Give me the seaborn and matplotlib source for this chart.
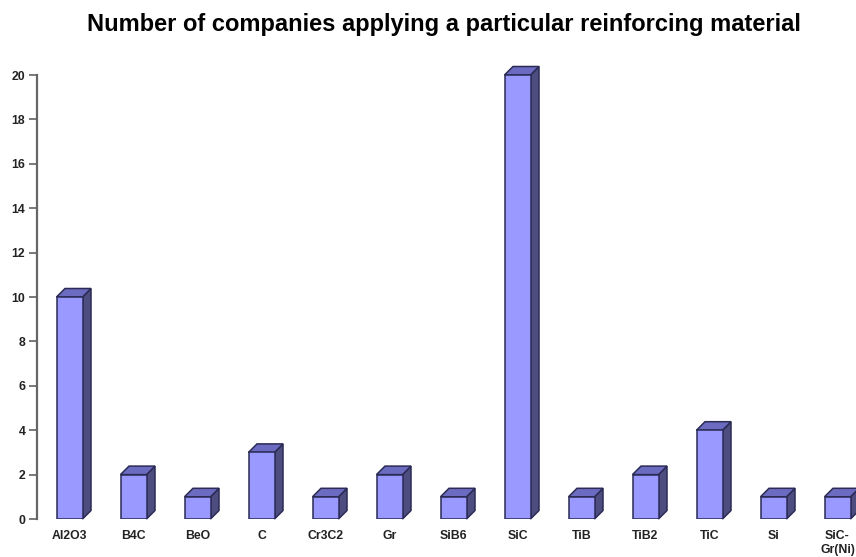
import matplotlib
matplotlib.use("Agg")
import matplotlib.pyplot as plt
import pandas as pd
import seaborn as sns
from matplotlib.patches import Polygon

materials = ["Al2O3", "B4C", "BeO", "C", "Cr3C2", "Gr", "SiB6", "SiC",
             "TiB", "TiB2", "TiC", "Si", "SiC-\nGr(Ni)"]
companies = [10, 2, 1, 3, 1, 2, 1, 20, 1, 2, 4, 1, 1]
y_ticks = [0, 2, 4, 6, 8, 10, 12, 14, 16, 18, 20]

FRONT = "#9999ff"
TOP = "#6b6bc2"
SIDE = "#4d4d80"
EDGE = "#2b2b55"
DEPTH_PX = 8.5


def main():
    sns.set_theme(style="white")
    plt.rcParams["font.family"] = ["Liberation Sans", "DejaVu Sans"]

    W, H = 856, 557
    fig = plt.figure(figsize=(W / 100, H / 100), dpi=100)

    # pixel layout of the plot area, category band is 64 px wide
    left, right, top, bottom = 37, W, 55, 519
    ax = fig.add_axes([left / W, 1 - bottom / H, (right - left) / W, (bottom - top) / H])

    df = pd.DataFrame({"material": materials, "companies": companies})
    sns.barplot(data=df, x="material", y="companies", color=FRONT, saturation=1,
                width=26 / 64, linewidth=1.1, edgecolor=EDGE, zorder=3, ax=ax)

    x_start = -0.5 - 0.5 / 64
    ax.set_xlim(x_start, x_start + (right - left) / 64)
    px_per_y = 444 / 20
    ax.set_ylim(0, (bottom - top) / px_per_y)

    # fake 3d box: side and top faces built off each seaborn bar
    dx = DEPTH_PX / 64
    dy = DEPTH_PX / px_per_y
    for bar in list(ax.patches):
        x0, x1 = bar.get_x(), bar.get_x() + bar.get_width()
        h = bar.get_height()
        side = [(x1, 0), (x1 + dx, dy), (x1 + dx, h + dy), (x1, h)]
        roof = [(x0, h), (x0 + dx, h + dy), (x1 + dx, h + dy), (x1, h)]
        for pts, col in ((side, SIDE), (roof, TOP)):
            ax.add_patch(Polygon(pts, closed=True, facecolor=col, edgecolor=EDGE,
                                 linewidth=1.1, zorder=2, clip_on=False))

    sns.despine(ax=ax, top=True, right=True, bottom=True)
    ax.spines["left"].set_bounds(0, 20)
    ax.spines["left"].set_color("#666666")
    ax.spines["left"].set_linewidth(1.6)

    ax.set_yticks(y_ticks)
    ax.tick_params(axis="y", left=True, length=6, width=1.1, color="#555555", pad=2.4,
                   labelsize=8.8, labelcolor="#222222")
    ax.tick_params(axis="x", bottom=False, pad=2, labelsize=8.8, labelcolor="#222222")
    for lab in ax.get_xticklabels() + ax.get_yticklabels():
        lab.set_fontweight("bold")
    for lab in ax.get_xticklabels():
        lab.set_linespacing(1.2)

    ax.set_xlabel("")
    ax.set_ylabel("")

    fig.text(444 / W, 1 - 24.5 / H, "Number of companies applying a particular reinforcing material",
             ha="center", va="center", fontsize=17, fontweight="bold", color="black")

    fig.savefig("out.png", dpi=100)
    plt.close(fig)


if __name__ == "__main__":
    main()
